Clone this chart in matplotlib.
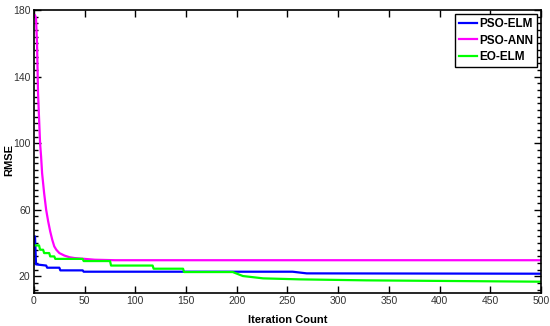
import numpy as np
import matplotlib
matplotlib.use("Agg")
import matplotlib.pyplot as plt
from matplotlib.ticker import MultipleLocator

plt.rcParams['font.family'] = ['Liberation Sans', 'DejaVu Sans']

# convergence curves, step-wise best RMSE
iters_ann = [0, 1, 2, 3, 4, 5, 6, 7, 8, 9, 10, 12, 14, 16, 18, 20, 22, 25, 30, 35, 40, 50, 60, 80, 500]
rmse_ann = [177, 177, 175, 160, 130, 115, 100, 92, 82, 76, 70, 60, 53, 47, 42, 38, 36, 34, 32.5, 31.5, 31, 30.5, 30, 29.7, 29.7]

iters_elm = [0, 1, 2, 12, 13, 25, 26, 48, 49, 255, 269, 500]
rmse_elm = [44, 44, 27.2, 26.5, 25.2, 25.2, 23.6, 23.6, 22.8, 22.8, 21.8, 21.6]

iters_eo = [0, 5, 6, 9, 10, 15, 16, 20, 21, 48, 49, 75, 76, 117, 118, 147, 148, 196, 206, 226, 262, 328, 500]
rmse_eo = [38.6, 38.6, 36, 36, 34, 34, 32, 32, 30.5, 30.5, 29.2, 29.2, 26.5, 26.5, 24.6, 24.6, 22.6, 22.6, 20.2, 18.8, 18.2, 17.6, 16.8]


def main():
    fig = plt.figure(figsize=(5.5, 3.26), dpi=100)
    ax = fig.add_axes([0.0618, 0.1012, 0.9218, 0.8678])

    ax.plot(iters_elm, rmse_elm, color='#0000ff', lw=1.6, label='PSO-ELM')
    ax.plot(iters_ann, rmse_ann, color='#ff00ff', lw=1.6, label='PSO-ANN')
    ax.plot(iters_eo, rmse_eo, color='#00ff00', lw=1.6, label='EO-ELM')

    ax.set_xlim(0, 500)
    ax.set_ylim(10, 180)
    ax.xaxis.set_major_locator(MultipleLocator(50))
    ax.yaxis.set_minor_locator(MultipleLocator(4))
    ax.set_yticks([20, 60, 100, 140, 180])
    ax.tick_params(which='both', direction='in', top=True, right=True,
                   labelsize=7.5, labelcolor='#333333', width=1, pad=2.5)
    ax.tick_params(which='major', length=5)
    ax.tick_params(which='minor', length=3)
    for s in ax.spines.values():
        s.set_linewidth(1.2)

    ax.set_xlabel('Iteration Count', fontsize=8, fontweight='bold', labelpad=6)
    ax.set_ylabel('RMSE', fontsize=8, fontweight='bold')
    ax.yaxis.set_label_coords(-0.038, 0.47)

    leg = ax.legend(loc='upper right', prop={'weight': 'bold', 'size': 8.5},
                    handlelength=1.5, handletextpad=0.2, borderpad=0.35,
                    labelspacing=0.4, fancybox=False, framealpha=1,
                    edgecolor='black', borderaxespad=0.3)
    leg.get_frame().set_linewidth(1.0)

    fig.savefig('out.png', dpi=100)


if __name__ == "__main__":
    main()
